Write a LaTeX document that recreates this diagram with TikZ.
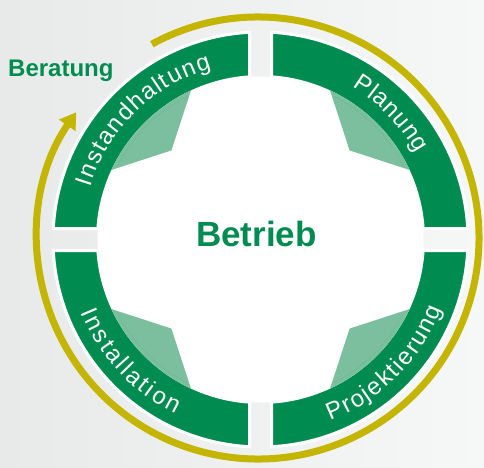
\documentclass[tikz,border=0pt]{standalone}
\usepackage{fontspec}
\setmainfont{Liberation Sans}
\usetikzlibrary{arrows.meta,decorations.text}
\definecolor{ringgreen}{RGB}{0,140,80}
\definecolor{palegreen}{RGB}{124,191,159}
\definecolor{cycleyellow}{RGB}{195,181,0}

\begin{document}
\begin{tikzpicture}[x=1pt,y=1pt,
  segment/.style={fill=ringgreen,draw=white,line width=3pt},
  wedge/.style={fill=palegreen},
  ringtext/.style={decorate,decoration={text along path,text align={fit to path},
    text color=white,text={|\fontsize{24}{24}\selectfont|#1}}}]
% background
\shade[left color={rgb,255:red,232;green,233;blue,233},right color={rgb,255:red,246;green,247;blue,247}] (0,0) rectangle (484,467);
\useasboundingbox (0,0) rectangle (484,467);
\coordinate (C) at (260.5,227.5);
\coordinate (Y) at (258,229);
% the yellow cycle arrow
\draw[cycleyellow,line width=7pt,-{Triangle[length=16pt,width=19pt]}] (Y) ++(118.7:221)
  arc[start angle=118.7,end angle=-214.7,radius=221];
% white centre
\fill[white] (C) circle[radius=163];
% four ring segments with the pale wedges
\foreach \q in {0,90,180,270}{
  \begin{scope}[shift={(C)},rotate=\q]
  \draw[segment] (3.04:207.5) arc[start angle=3.04,end angle=86.96,radius=207.5]
    -- (86.13:163) arc[start angle=86.13,end angle=3.87,radius=163] -- cycle;
  \fill[wedge] (25:164.5) -- (45:126) -- (65:164.5) arc[start angle=65,end angle=25,radius=164.5] -- cycle;
  \draw[ringgreen!60,line width=0.4pt] (27:161) arc[start angle=27,end angle=63,radius=161];
  \end{scope}
}
% labels on the ring
\begin{scope}[shift={(C)}]
\path[ringtext=Instandhaltung] (163:178) arc[start angle=163,end angle=106,radius=178];
\path[ringtext=Planung] (59:178) arc[start angle=59,end angle=29,radius=178];
\path[ringtext=Installation] (202:194) arc[start angle=202,end angle=244,radius=194];
\path[ringtext=Projektierung] (-69:194) arc[start angle=-69,end angle=-21,radius=194];
\end{scope}
% the two green words
\node[anchor=base west,inner sep=0,text=ringgreen,font=\bfseries\fontsize{24}{24}\selectfont] (beratung) at (8,391) {Beratung};
\node[anchor=base west,inner sep=0,text=ringgreen,font=\bfseries\fontsize{35}{35}\selectfont] (betrieb) at (196,221) {Betrieb};
\end{tikzpicture}
\end{document}
